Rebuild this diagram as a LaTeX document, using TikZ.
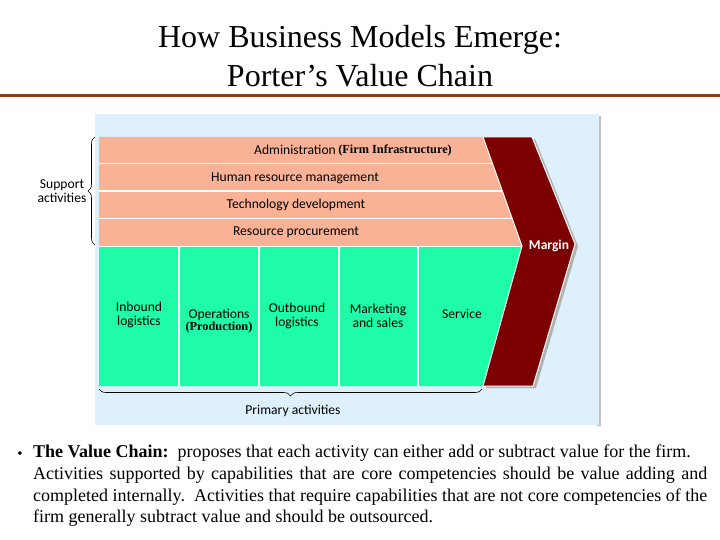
\documentclass[tikz,border=0pt]{standalone}
\usepackage{fontspec}
\setmainfont{Liberation Serif}
\newfontfamily\diag{Carlito}
\usetikzlibrary{decorations.pathreplacing}
\definecolor{rulebrown}{RGB}{140,58,26}
\definecolor{panelblue}{RGB}{221,240,252}
\definecolor{supppink}{RGB}{250,178,150}
\definecolor{primgreen}{RGB}{30,252,168}
\definecolor{margred}{RGB}{125,0,0}
\begin{document}
\begin{tikzpicture}[x=1pt,y=-1pt,
  dtext/.style={font=\diag\fontsize{13.6}{14.2}\selectfont, align=center, inner sep=0pt},
  btext/.style={font=\fontsize{12.3}{13}\selectfont\bfseries, inner sep=0pt},
  sep/.style={draw=white, line width=1.3pt},
  bracestyle/.style={draw=black, line width=0.6pt, decorate, decoration={brace, amplitude=7pt}}]
\useasboundingbox (0,0) rectangle (720,540);
\fill[white] (0,0) rectangle (720,540);
% title
\node (t1) at (360,40) {\fontsize{32}{34}\selectfont How Business Models Emerge:};
\node (t2) at (360,76) {\fontsize{32}{34}\selectfont Porter’s Value Chain};
\draw[rulebrown, line width=3pt] (0,96) -- (720,96);
% panel
\fill[gray!50] (597,116) rectangle (601,426);
\fill[panelblue] (95,114) rectangle (599,425);
% support block
\fill[supppink] (99,137) -- (483,137) -- (522,246) -- (99,246) -- cycle;
\draw[sep] (99,163.5) -- (492.5,163.5);
\draw[sep] (99,191) -- (502.3,191);
\draw[sep] (99,218.5) -- (512,218.5);
% primary block
\fill[primgreen] (99,247) -- (522,247) -- (483,386) -- (99,386) -- cycle;
\draw[sep] (99,246.5) -- (522,246.5);
\draw[sep] (179,247) -- (179,386);
\draw[sep] (259,247) -- (259,386);
\draw[sep] (339,247) -- (339,386);
\draw[sep] (418,247) -- (418,386);
% margin
\fill[gray!60] (486,139) -- (535,139) -- (578,246) -- (536,388) -- (486,388) -- (525,248) -- cycle;
\draw[fill=margred, draw=white, line width=1pt] (483,137) -- (532,137) -- (575,244) -- (533,386) -- (483,386) -- (522,246) -- cycle;
\node[font=\diag\fontsize{13.5}{14}\selectfont\bfseries, text=white] (margin) at (549,246) {Margin};
% support labels
\node[dtext] (admin) at (295,150) {Administration};
\node[btext, anchor=west] (firm) at (admin.east) {\,(Firm Infrastructure)};
\node[dtext] (hr) at (295,178) {Human resource management};
\node[dtext] (tech) at (296,205) {Technology development};
\node[dtext] (proc) at (296,232) {Resource procurement};
% primary labels
\node[dtext] (inb) at (139,315) {Inbound\\logistics};
\node[dtext] (ops) at (219,315) {Operations};
\node[btext] (prod) at (219,328) {(Production)};
\node[dtext] (outb) at (297,316) {Outbound\\logistics};
\node[dtext] (mkt) at (378,316) {Marketing\\and sales};
\node[dtext] (serv) at (462,314) {Service};
% braces
\coordinate (sb1) at (95,245);
\coordinate (sb2) at (95,137);
\draw[bracestyle] (sb1) -- (sb2);
\node[dtext] (supp) at (62,191) {Support\\activities};
\coordinate (pb1) at (482,389);
\coordinate (pb2) at (99,389);
\draw[bracestyle] (pb1) -- (pb2);
\node[dtext] (prim) at (293,411) {Primary activities};
% bottom text
\node[inner sep=0pt, font=\fontsize{15}{21.7}\selectfont] (bul) at (20,455) {•};
\node[anchor=north west, inner sep=0pt, text width=674pt, align=justify,
      font=\fontsize{18}{21.7}\selectfont] (body) at (33,445)
  {\textbf{The Value Chain:}\ \ proposes that each activity can either add or subtract value for the firm.\newline Activities supported by capabilities that are core competencies should be value adding and\linebreak completed internally.\ \ Activities that require capabilities that are not core competencies of the\linebreak firm generally subtract value and should be outsourced.};
\end{tikzpicture}
\end{document}
